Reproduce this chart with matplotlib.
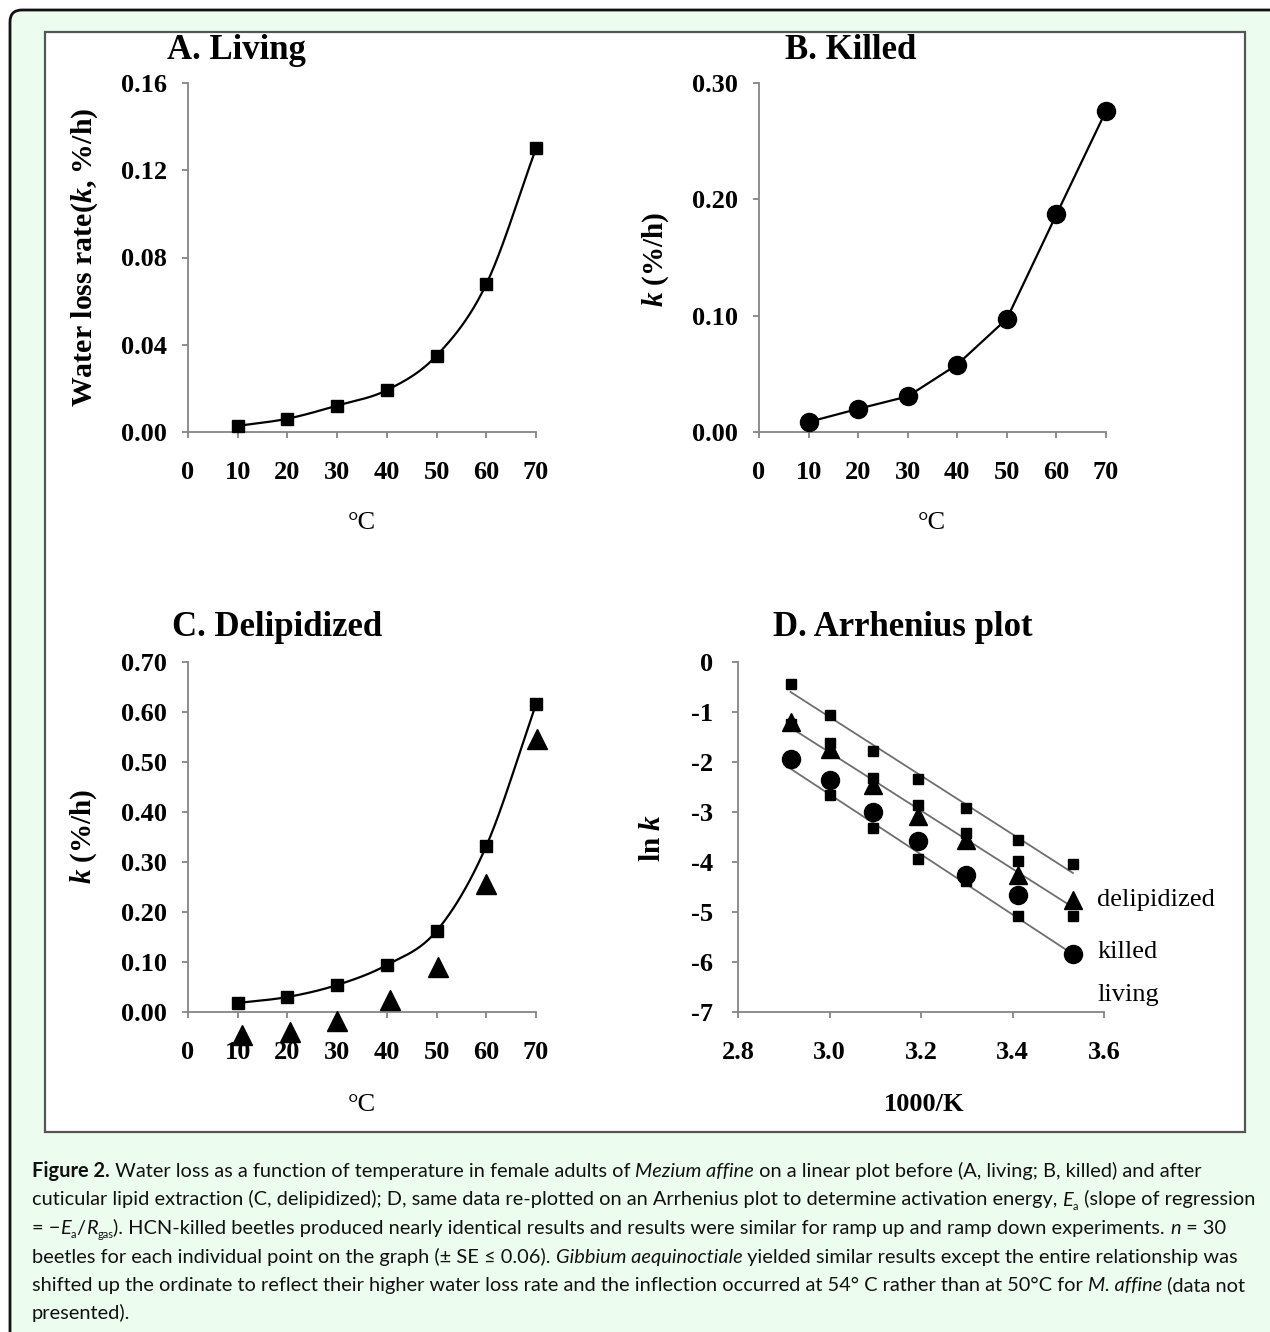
import numpy as np
import matplotlib
matplotlib.use('Agg')
import matplotlib.pyplot as plt
from matplotlib.patches import FancyBboxPatch, Rectangle
from matplotlib.transforms import IdentityTransform

W, H = 1270, 1332
SERIF = 'Liberation Serif'
CAP_FONT = ['Lato', 'DejaVu Sans']
MINT = '#ecfdef'
AXC = '#858585'

plt.rcParams['font.family'] = SERIF
plt.rcParams['mathtext.fontset'] = 'custom'
plt.rcParams['mathtext.rm'] = 'Liberation Serif:bold'
plt.rcParams['mathtext.it'] = 'Liberation Serif:italic:bold'
plt.rcParams['mathtext.bf'] = 'Liberation Serif:bold'

# ---- data ----
temp = [10, 20, 30, 40, 50, 60, 70]
living_k = [0.0028, 0.0061, 0.0121, 0.0192, 0.035, 0.0678, 0.130]
killed_k = [0.0086, 0.0199, 0.0306, 0.058, 0.0973, 0.187, 0.276]
delip_k = [0.018, 0.030, 0.054, 0.094, 0.162, 0.332, 0.616]
delip_tri_temp = [10.8, 20.5, 30.0, 40.7, 50.3, 60.0, 70.2]
delip_tri_k = [-0.046, -0.039, -0.018, 0.025, 0.091, 0.256, 0.546]

inv_K = [2.915, 3.002, 3.095, 3.193, 3.299, 3.411, 3.532]
ln_sq_top = [-0.45, -1.06, -1.79, -2.34, -2.93, -3.56, -4.05]
ln_sq_mid = [-1.25, -1.63, -2.33, -2.87, -3.43, -3.99, -5.09]
ln_sq_low = [-2.0, -2.66, -3.33, -3.95, -4.39, -5.09, -5.8]
ln_tri = [-1.2, -1.75, -2.46, -3.09, -3.56, -4.26, -4.76]
ln_circ = [-1.95, -2.36, -3.01, -3.59, -4.26, -4.66, -5.83]

end_labels = ['delipidized', 'killed', 'living']
end_label_y = [-4.76, -5.8, -6.66]

temp_ticks = [0, 10, 20, 30, 40, 50, 60, 70]
a_yticks = [0.0, 0.04, 0.08, 0.12, 0.16]
b_yticks = [0.0, 0.10, 0.20, 0.30]
c_yticks = [0.0, 0.1, 0.2, 0.3, 0.4, 0.5, 0.6, 0.7]
d_xticks = [2.8, 3.0, 3.2, 3.4, 3.6]
d_yticks = [0, -1, -2, -3, -4, -5, -6, -7]


def smooth(x, y, n=25):
    """Catmull-Rom curve through the points (like Excel's smoothed line)."""
    x = np.asarray(x, float)
    y = np.asarray(y, float)
    px = np.concatenate([[2 * x[0] - x[1]], x, [2 * x[-1] - x[-2]]])
    py = np.concatenate([[2 * y[0] - y[1]], y, [2 * y[-1] - y[-2]]])
    t = np.linspace(0, 1, n)[:, None]
    xs, ys = [], []
    for i in range(1, len(px) - 2):
        P = np.array([[px[j], py[j]] for j in range(i - 1, i + 3)])
        c = 0.5 * (2 * P[1] + (-P[0] + P[2]) * t
                   + (2 * P[0] - 5 * P[1] + 4 * P[2] - P[3]) * t ** 2
                   + (-P[0] + 3 * P[1] - 3 * P[2] + P[3]) * t ** 3)
        xs.append(c[:, 0])
        ys.append(c[:, 1])
    return np.concatenate(xs), np.concatenate(ys)


def add_axes(box):
    x0, y0, x1, y1 = box
    ax = fig.add_axes([x0 / W, 1 - y1 / H, (x1 - x0) / W, (y1 - y0) / H])
    ax.set_facecolor('none')
    for s in ['top', 'right']:
        ax.spines[s].set_visible(False)
    for s in ['left', 'bottom']:
        ax.spines[s].set_color(AXC)
        ax.spines[s].set_linewidth(1.3)
    ax.tick_params(direction='out', length=4, width=1.3, color=AXC, labelsize=19)
    ax.tick_params(axis='x', pad=17)
    ax.tick_params(axis='y', pad=11)
    return ax


def set_ticks(ax, xt, xl, yt, yl):
    ax.set_xticks(xt)
    ax.set_xticklabels(xl, fontweight='bold')
    ax.set_yticks(yt)
    ax.set_yticklabels(yl, fontweight='bold')


def ftext(x, y, s, **kw):
    return fig.text(x / W, 1 - y / H, s, **kw)


fig = plt.figure(figsize=(W / 100, H / 100), dpi=100)
fig.patch.set_facecolor('white')

# outer rounded frame and inner white panel
frame = FancyBboxPatch((10, -60), 1400, H - 10 + 60, boxstyle='round,pad=0,rounding_size=12',
                       transform=IdentityTransform(), fc=MINT, ec='#111111', lw=2, zorder=-3)
fig.add_artist(frame)
panel = Rectangle((45 / W, 1 - 1132 / H), 1200 / W, 1100 / H, transform=fig.transFigure,
                  fc='white', ec='#555555', lw=1.6, zorder=-2)
fig.add_artist(panel)

# ---- A. Living ----
ax = add_axes((188, 83, 536, 432))
sx, sy = smooth(temp, living_k)
ax.plot(sx, sy, color='black', lw=1.6, zorder=2)
ax.plot(temp, living_k, 's', color='black', ms=8, clip_on=False, zorder=3)
ax.set_xlim(0, 70)
ax.set_ylim(0, 0.16)
set_ticks(ax, temp_ticks, [str(t) for t in temp_ticks], a_yticks, [f'{v:.2f}' for v in a_yticks])
ftext(236, 59, 'A. Living', fontsize=25, fontweight='bold', ha='center', va='baseline')
ftext(85, 257, 'Water loss rate($k$, %/h)', fontsize=21.5, fontweight='bold', rotation=90,
      ha='center', va='center')
ftext(362, 529, '°C', fontsize=19, ha='center', va='baseline')

# ---- B. Killed ----
ax = add_axes((759, 83, 1106, 432))
ax.plot(temp, killed_k, '-o', color='black', lw=1.6, ms=13, clip_on=False, zorder=3)
ax.set_xlim(0, 70)
ax.set_ylim(0, 0.30)
set_ticks(ax, temp_ticks, [str(t) for t in temp_ticks], b_yticks, [f'{v:.2f}' for v in b_yticks])
ftext(851, 59, 'B. Killed', fontsize=25, fontweight='bold', ha='center', va='baseline')
ftext(656, 259, '$k$ (%/h)', fontsize=21, fontweight='bold', rotation=90,
      ha='center', va='center')
ftext(932, 529, '°C', fontsize=19, ha='center', va='baseline')

# ---- C. Delipidized ----
ax = add_axes((188, 662, 536, 1012))
sx, sy = smooth(temp, delip_k)
ax.plot(sx, sy, color='black', lw=1.6, zorder=2)
ax.plot(temp, delip_k, 's', color='black', ms=8, clip_on=False, zorder=3)
ax.plot(delip_tri_temp, delip_tri_k, '^', color='black', ms=14, clip_on=False, zorder=3)
ax.set_xlim(0, 70)
ax.set_ylim(0, 0.70)
set_ticks(ax, temp_ticks, [str(t) for t in temp_ticks], c_yticks, [f'{v:.2f}' for v in c_yticks])
ftext(277, 636, 'C. Delipidized', fontsize=25, fontweight='bold', ha='center', va='baseline')
ftext(84, 836, '$k$ (%/h)', fontsize=21, fontweight='bold', rotation=90,
      ha='center', va='center')
ftext(362, 1111, '°C', fontsize=19, ha='center', va='baseline')

# ---- D. Arrhenius plot ----
ax = add_axes((738, 662, 1104, 1012))
xk = np.asarray(inv_K)
for series in [ln_sq_top, ln_tri, ln_sq_low]:
    m, b = np.polyfit(xk, series, 1)
    xx = np.array([xk.min(), xk.max()])
    ax.plot(xx, m * xx + b, color='#6e6e6e', lw=1.3, zorder=2)
for series in [ln_sq_top, ln_sq_mid, ln_sq_low]:
    ax.plot(inv_K, series, 's', color='black', ms=7.2, clip_on=False, zorder=3)
ax.plot(inv_K, ln_tri, '^', color='black', ms=13, clip_on=False, zorder=4)
ax.plot(inv_K, ln_circ, 'o', color='black', ms=13, clip_on=False, zorder=5)
for lab, yv in zip(end_labels, end_label_y):
    ax.text(3.585, yv, lab, fontsize=19, ha='left', va='center', clip_on=False)
ax.set_xlim(2.8, 3.6)
ax.set_ylim(-7, 0)
set_ticks(ax, d_xticks, [f'{v:.1f}' for v in d_xticks], d_yticks, [str(v) for v in d_yticks])
ax.tick_params(axis='y', pad=14)
ftext(903, 636, 'D. Arrhenius plot', fontsize=25, fontweight='bold', ha='center', va='baseline')
ftext(652, 838, 'ln $k$', fontsize=21, fontweight='bold', rotation=90,
      ha='center', va='center')
ftext(924, 1111, '1000/K', fontsize=19, fontweight='bold', ha='center', va='baseline')

# ---- caption ----
caption = [
    [('Figure 2.', 'b'), (' Water loss as a function of temperature in female adults of ', 'r'),
     ('Mezium affine', 'i'), (' on a linear plot before (A, living; B, killed) and after', 'r')],
    [('cuticular lipid extraction (C, delipidized); D, same data re-plotted on an Arrhenius plot '
      'to determine activation energy, ', 'r'), ('E', 'i'), ('a', 's'), (' (slope of regression', 'r')],
    [('= \u2212', 'r'), ('E', 'i'), ('a', 's'), ('/', 'r'), ('R', 'i'), ('gas', 's'),
     ('). HCN-killed beetles produced nearly identical results and results were similar for ramp up '
      'and ramp down experiments. ', 'r'), ('n', 'i'), (' = 30', 'r')],
    [('beetles for each individual point on the graph (\u00b1 SE \u2264 0.06). ', 'r'),
     ('Gibbium aequinoctiale', 'i'),
     (' yielded similar results except the entire relationship was', 'r')],
    [('shifted up the ordinate to reflect their higher water loss rate and the inflection occurred '
      'at 54\u00b0 C rather than at 50\u00b0C for ', 'r'), ('M. affine', 'i'), (' (data not', 'r')],
    [('presented).', 'r')],
]

renderer = fig.canvas.get_renderer()


def seg_kw(style, size):
    kw = dict(family=CAP_FONT, fontsize=size, color='#111111')
    if style == 'b':
        kw['fontweight'] = 'bold'
    elif style == 'i':
        kw['fontstyle'] = 'italic'
    elif style == 's':
        kw['fontsize'] = size * 0.55
    return kw


def seg_width(s, kw):
    t1 = fig.text(0, 0, 'x' + s + 'x', **kw)
    t0 = fig.text(0, 0, 'xx', **kw)
    w = t1.get_window_extent(renderer).width - t0.get_window_extent(renderer).width
    t1.remove()
    t0.remove()
    return w


def line_width(parts, size):
    return sum(seg_width(s, seg_kw(st, size)) for s, st in parts)


size = 10 * 1225 / line_width(caption[1], 10)
x_start, y_base, lead = 32, 1177, 28.5
for i, parts in enumerate(caption):
    x = x_start
    y = y_base + i * lead
    for s, st in parts:
        kw = seg_kw(st, size)
        dy = 0.22 * size * 100 / 72 if st == 's' else 0
        ftext(x, y + dy, s, ha='left', va='baseline', **kw)
        x += seg_width(s, kw)

fig.savefig('out.png', dpi=100, facecolor=fig.get_facecolor())
